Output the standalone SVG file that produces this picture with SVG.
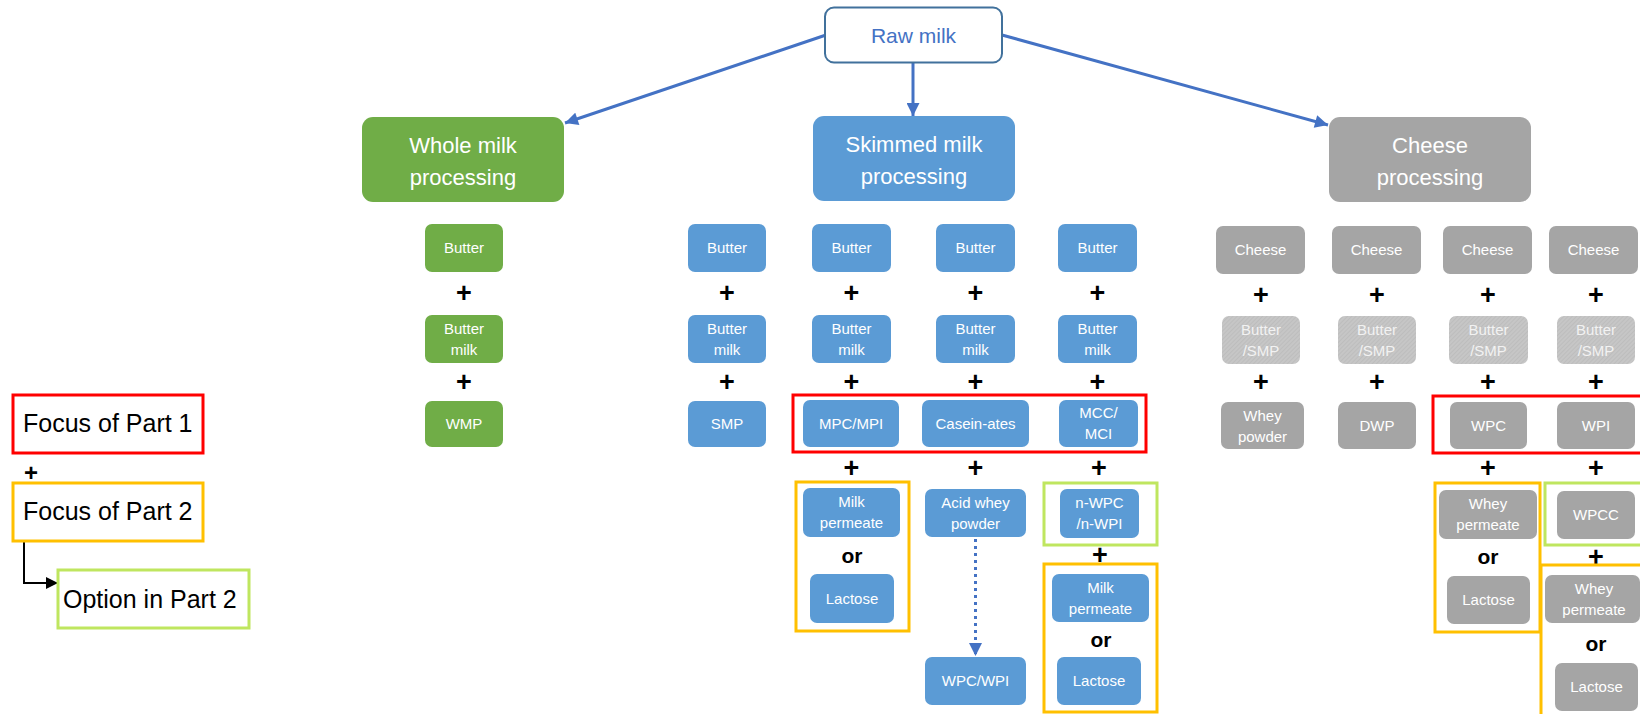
<svg xmlns="http://www.w3.org/2000/svg" width="1640" height="714" viewBox="0 0 1640 714">
<style>
  .bg{fill:#ffffff}
  .g{fill:#70ad47}
  .b{fill:#5b9bd5}
  .y{fill:#a5a5a5}
  .h{fill:url(#hatch)}
  .t{font-family:"Liberation Sans",Arial,sans-serif;font-size:15px;fill:#ffffff;text-anchor:middle}
  .th{font-family:"Liberation Sans",Arial,sans-serif;font-size:15px;fill:#f2f2f2;text-anchor:middle}
  .tb{font-family:"Liberation Sans",Arial,sans-serif;font-size:22px;fill:#ffffff;text-anchor:middle}
  .plus{font-family:"Liberation Sans",Arial,sans-serif;font-size:27px;font-weight:bold;fill:#000000;text-anchor:middle}
  .or{font-family:"Liberation Sans",Arial,sans-serif;font-size:21px;font-weight:bold;fill:#000000;text-anchor:middle}
  .leg{font-family:"Liberation Sans",Arial,sans-serif;font-size:25px;fill:#000000}
  .red{fill:none;stroke:#ff0000;stroke-width:3}
  .org{fill:none;stroke:#ffc000;stroke-width:3}
  .lg{fill:none;stroke:#bfe65f;stroke-width:3}
  .conn{fill:none;stroke:#4472c4;stroke-width:3;marker-end:url(#ab)}
  .dot{fill:none;stroke:#4472c4;stroke-width:3;stroke-dasharray:3 4;marker-end:url(#ab)}
</style>
<defs>
  <pattern id="hatch" patternUnits="userSpaceOnUse" width="3" height="3" patternTransform="rotate(45)">
    <rect width="3" height="3" fill="#c6c6c6"/>
    <line x1="0" y1="0" x2="0" y2="3" stroke="#b4b4b4" stroke-width="1"/>
  </pattern>
  <marker id="ab" viewBox="0 0 10 10" refX="10" refY="5" markerWidth="14" markerHeight="13" markerUnits="userSpaceOnUse" orient="auto">
    <path d="M0,0 L10,5 L0,10 Z" fill="#4472c4"/>
  </marker>
  <marker id="ak" viewBox="0 0 10 10" refX="10" refY="5" markerWidth="12" markerHeight="14" markerUnits="userSpaceOnUse" orient="auto">
    <path d="M0,0 L10,5 L0,10 Z" fill="#000000"/>
  </marker>
</defs>
<rect class="bg" width="1640" height="714"/>

<g id="connectors">
  <line class="conn" x1="826" y1="35" x2="565" y2="123"/>
  <line class="conn" x1="913" y1="62" x2="913" y2="116"/>
  <line class="conn" x1="1002" y1="35" x2="1328" y2="125"/>
  <line class="dot" x1="975.5" y1="539" x2="975.5" y2="656"/>
  <polyline points="24,541 24,583 58,583" fill="none" stroke="#000" stroke-width="2" marker-end="url(#ak)"/>
</g>

<g id="raw-milk">
  <rect x="825" y="7.5" width="177" height="55" rx="9" fill="#fff" stroke="#41719c" stroke-width="2"/>
  <text x="913.5" y="43" font-family="Liberation Sans, Arial, sans-serif" font-size="21" fill="#4472c4" text-anchor="middle">Raw milk</text>
</g>

<g id="whole-milk-processing">
  <rect class="g" x="362" y="117" width="202" height="85" rx="11"/>
  <text class="tb" x="463" y="153">Whole milk</text>
  <text class="tb" x="463" y="185">processing</text>
</g>
<g id="skimmed-milk-processing">
  <rect class="b" x="813" y="116" width="202" height="85" rx="11"/>
  <text class="tb" x="914" y="152">Skimmed milk</text>
  <text class="tb" x="914" y="184">processing</text>
</g>
<g id="cheese-processing">
  <rect class="y" x="1329" y="117" width="202" height="85" rx="11"/>
  <text class="tb" x="1430" y="153">Cheese</text>
  <text class="tb" x="1430" y="185">processing</text>
</g>

<!-- Whole milk column -->
<g id="wm-butter"><rect class="g" x="425" y="224" width="78" height="48" rx="7"/><text class="t" x="464" y="253">Butter</text></g>
<g id="wm-buttermilk"><rect class="g" x="425" y="315" width="78" height="48" rx="7"/><text class="t" x="464" y="333.5">Butter</text><text class="t" x="464" y="354.5">milk</text></g>
<g id="wm-wmp"><rect class="g" x="425" y="401" width="78" height="46" rx="7"/><text class="t" x="464" y="429">WMP</text></g>

<!-- Skimmed col A -->
<g id="sa-butter"><rect class="b" x="688" y="224" width="78" height="48" rx="7"/><text class="t" x="727" y="253">Butter</text></g>
<g id="sa-buttermilk"><rect class="b" x="688" y="315" width="78" height="48" rx="7"/><text class="t" x="727" y="333.5">Butter</text><text class="t" x="727" y="354.5">milk</text></g>
<g id="sa-smp"><rect class="b" x="688" y="401" width="78" height="46" rx="7"/><text class="t" x="727" y="429">SMP</text></g>

<!-- Skimmed col B -->
<g id="sb-butter"><rect class="b" x="812" y="224" width="79" height="48" rx="7"/><text class="t" x="851.5" y="253">Butter</text></g>
<g id="sb-buttermilk"><rect class="b" x="812" y="315" width="79" height="48" rx="7"/><text class="t" x="851.5" y="333.5">Butter</text><text class="t" x="851.5" y="354.5">milk</text></g>
<g id="sb-mpc"><rect class="b" x="803" y="400" width="96" height="47" rx="7"/><text class="t" x="851" y="428.5">MPC/MPI</text></g>
<g id="sb-milk-permeate"><rect class="b" x="803" y="488" width="97" height="49" rx="7"/><text class="t" x="851.5" y="507">Milk</text><text class="t" x="851.5" y="528">permeate</text></g>
<g id="sb-lactose"><rect class="b" x="810" y="574" width="84" height="49" rx="7"/><text class="t" x="852" y="603.5">Lactose</text></g>

<!-- Skimmed col C -->
<g id="sc-butter"><rect class="b" x="936" y="224" width="79" height="48" rx="7"/><text class="t" x="975.5" y="253">Butter</text></g>
<g id="sc-buttermilk"><rect class="b" x="936" y="315" width="79" height="48" rx="7"/><text class="t" x="975.5" y="333.5">Butter</text><text class="t" x="975.5" y="354.5">milk</text></g>
<g id="sc-caseinates"><rect class="b" x="922" y="400" width="107" height="47" rx="7"/><text class="t" x="975.5" y="428.5">Casein-ates</text></g>
<g id="sc-acid-whey"><rect class="b" x="925" y="489" width="101" height="48" rx="7"/><text class="t" x="975.5" y="507.5">Acid whey</text><text class="t" x="975.5" y="528.5">powder</text></g>
<g id="sc-wpc-wpi"><rect class="b" x="925" y="657" width="101" height="48" rx="7"/><text class="t" x="975.5" y="686">WPC/WPI</text></g>

<!-- Skimmed col D -->
<g id="sd-butter"><rect class="b" x="1058" y="224" width="79" height="48" rx="7"/><text class="t" x="1097.5" y="253">Butter</text></g>
<g id="sd-buttermilk"><rect class="b" x="1058" y="315" width="79" height="48" rx="7"/><text class="t" x="1097.5" y="333.5">Butter</text><text class="t" x="1097.5" y="354.5">milk</text></g>
<g id="sd-mcc"><rect class="b" x="1059" y="400" width="79" height="47" rx="7"/><text class="t" x="1098.5" y="418">MCC/</text><text class="t" x="1098.5" y="439">MCI</text></g>
<g id="sd-nwpc"><rect class="b" x="1060" y="489" width="79" height="49" rx="7"/><text class="t" x="1099.5" y="508">n-WPC</text><text class="t" x="1099.5" y="529">/n-WPI</text></g>
<g id="sd-milk-permeate"><rect class="b" x="1052" y="574" width="97" height="48" rx="7"/><text class="t" x="1100.5" y="592.5">Milk</text><text class="t" x="1100.5" y="613.5">permeate</text></g>
<g id="sd-lactose"><rect class="b" x="1057" y="657" width="84" height="48" rx="7"/><text class="t" x="1099" y="686">Lactose</text></g>

<!-- Cheese col E -->
<g id="ce-cheese"><rect class="y" x="1216" y="226" width="89" height="48" rx="7"/><text class="t" x="1260.5" y="255">Cheese</text></g>
<g id="ce-butter-smp"><rect class="h" x="1222" y="316" width="78" height="48" rx="7"/><text class="th" x="1261" y="334.5">Butter</text><text class="th" x="1261" y="355.5">/SMP</text></g>
<g id="ce-whey-powder"><rect class="y" x="1221" y="402" width="83" height="47" rx="7"/><text class="t" x="1262.5" y="420.5">Whey</text><text class="t" x="1262.5" y="441.5">powder</text></g>

<!-- Cheese col F -->
<g id="cf-cheese"><rect class="y" x="1332" y="226" width="89" height="48" rx="7"/><text class="t" x="1376.5" y="255">Cheese</text></g>
<g id="cf-butter-smp"><rect class="h" x="1338" y="316" width="78" height="48" rx="7"/><text class="th" x="1377" y="334.5">Butter</text><text class="th" x="1377" y="355.5">/SMP</text></g>
<g id="cf-dwp"><rect class="y" x="1338" y="402" width="78" height="47" rx="7"/><text class="t" x="1377" y="430.5">DWP</text></g>

<!-- Cheese col G -->
<g id="cg-cheese"><rect class="y" x="1443" y="226" width="89" height="48" rx="7"/><text class="t" x="1487.5" y="255">Cheese</text></g>
<g id="cg-butter-smp"><rect class="h" x="1449" y="316" width="79" height="48" rx="7"/><text class="th" x="1488.5" y="334.5">Butter</text><text class="th" x="1488.5" y="355.5">/SMP</text></g>
<g id="cg-wpc"><rect class="y" x="1450" y="402" width="77" height="47" rx="7"/><text class="t" x="1488.5" y="430.5">WPC</text></g>
<g id="cg-whey-permeate"><rect class="y" x="1439" y="490" width="98" height="49" rx="7"/><text class="t" x="1488" y="509">Whey</text><text class="t" x="1488" y="530">permeate</text></g>
<g id="cg-lactose"><rect class="y" x="1447" y="576" width="83" height="48" rx="7"/><text class="t" x="1488.5" y="605">Lactose</text></g>

<!-- Cheese col H -->
<g id="ch-cheese"><rect class="y" x="1549" y="226" width="89" height="48" rx="7"/><text class="t" x="1593.5" y="255">Cheese</text></g>
<g id="ch-butter-smp"><rect class="h" x="1557" y="316" width="78" height="48" rx="7"/><text class="th" x="1596" y="334.5">Butter</text><text class="th" x="1596" y="355.5">/SMP</text></g>
<g id="ch-wpi"><rect class="y" x="1557" y="402" width="78" height="47" rx="7"/><text class="t" x="1596" y="430.5">WPI</text></g>
<g id="ch-wpcc"><rect class="y" x="1557" y="491" width="78" height="48" rx="7"/><text class="t" x="1596" y="520">WPCC</text></g>
<g id="ch-whey-permeate"><rect class="y" x="1545" y="575" width="95" height="48" rx="7"/><text class="t" x="1594" y="593.5">Whey</text><text class="t" x="1594" y="614.5">permeate</text></g>
<g id="ch-lactose"><rect class="y" x="1555" y="663" width="83" height="48" rx="7"/><text class="t" x="1596.5" y="692">Lactose</text></g>

<!-- plus and or signs -->
<g id="operators">
  <text class="plus" x="464" y="302">+</text>
  <text class="plus" x="464" y="391">+</text>
  <text class="plus" x="727" y="302">+</text>
  <text class="plus" x="727" y="391">+</text>
  <text class="plus" x="851.5" y="302">+</text>
  <text class="plus" x="851.5" y="391">+</text>
  <text class="plus" x="851.5" y="477">+</text>
  <text class="or" x="852" y="563">or</text>
  <text class="plus" x="975.5" y="302">+</text>
  <text class="plus" x="975.5" y="391">+</text>
  <text class="plus" x="975.5" y="477">+</text>
  <text class="plus" x="1097.5" y="302">+</text>
  <text class="plus" x="1097.5" y="391">+</text>
  <text class="plus" x="1099" y="477">+</text>
  <text class="plus" x="1100" y="564">+</text>
  <text class="or" x="1101" y="647">or</text>
  <text class="plus" x="1261" y="304">+</text>
  <text class="plus" x="1261" y="391">+</text>
  <text class="plus" x="1377" y="304">+</text>
  <text class="plus" x="1377" y="391">+</text>
  <text class="plus" x="1488" y="304">+</text>
  <text class="plus" x="1488" y="391">+</text>
  <text class="plus" x="1488" y="477">+</text>
  <text class="or" x="1488" y="564">or</text>
  <text class="plus" x="1596" y="304">+</text>
  <text class="plus" x="1596" y="391">+</text>
  <text class="plus" x="1596" y="477">+</text>
  <text class="plus" x="1596" y="566">+</text>
  <text class="or" x="1596" y="651">or</text>
</g>

<!-- focus frames -->
<g id="focus-frames">
  <rect class="red" x="793" y="395" width="353" height="57"/>
  <rect class="org" x="796" y="482" width="113" height="149"/>
  <rect class="lg" x="1044" y="483" width="113" height="62"/>
  <rect class="org" x="1044" y="564" width="113" height="148"/>
  <rect class="red" x="1433" y="396" width="215" height="57"/>
  <rect class="org" x="1435" y="483" width="105" height="149"/>
  <rect class="lg" x="1545" y="483" width="103" height="62"/>
  <rect class="org" x="1541" y="565" width="107" height="160"/>
</g>

<!-- legend -->
<g id="legend-part1">
  <rect class="red" x="13" y="395" width="190" height="58"/>
  <text class="leg" x="23" y="432">Focus of Part 1</text>
</g>
<text class="plus" x="31" y="481" style="font-size:24px">+</text>
<g id="legend-part2">
  <rect class="org" x="13" y="483" width="190" height="58"/>
  <text class="leg" x="23" y="520">Focus of Part 2</text>
</g>
<g id="legend-option">
  <rect class="lg" x="58" y="570" width="191" height="58"/>
  <text class="leg" x="63" y="608">Option in Part 2</text>
</g>
</svg>
